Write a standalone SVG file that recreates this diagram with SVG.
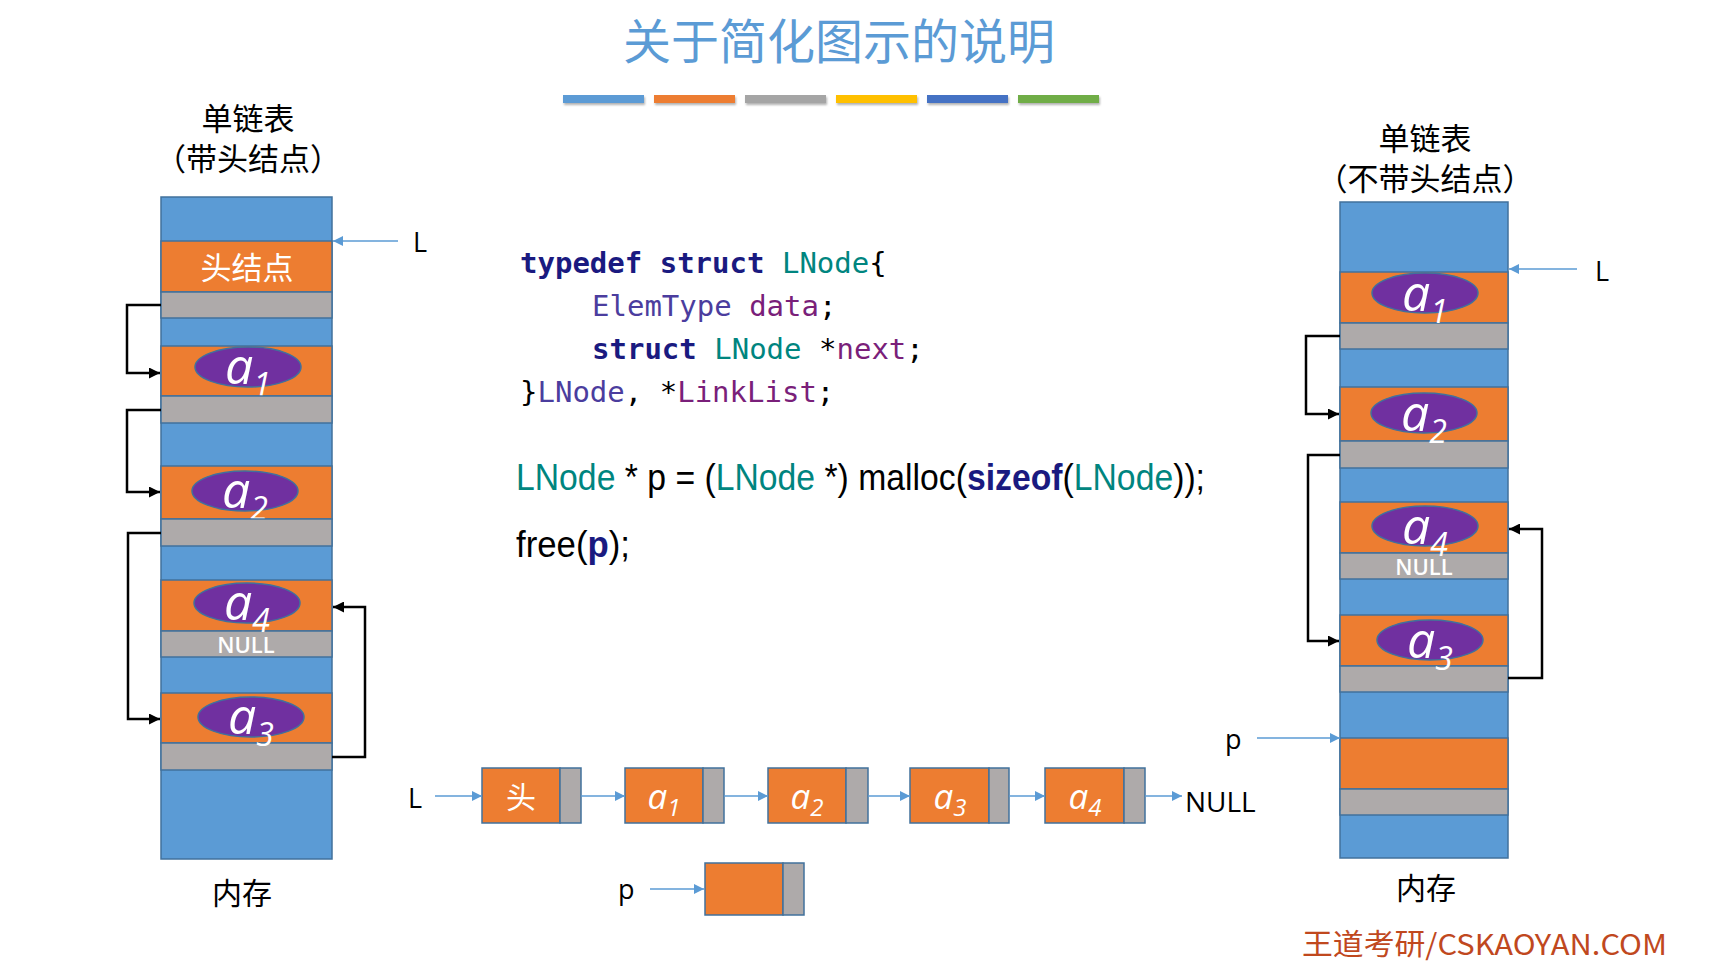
<svg xmlns="http://www.w3.org/2000/svg" width="1728" height="966" viewBox="0 0 1728 966">
<defs>
<style>
.bl{fill:#5B9BD5;stroke:#41719C;stroke-width:1.5}
.or{fill:#ED7D31;stroke:#41719C;stroke-width:1.5}
.gr{fill:#AEAAAA;stroke:#41719C;stroke-width:1.5}
.el{fill:#7030A0;stroke:#41719C;stroke-width:1.5}
.cn{fill:none;stroke:#000;stroke-width:2.5}
.bc{fill:none;stroke:#5B9BD5;stroke-width:1.5}
.cjk{font-family:"Noto Sans CJK SC","Noto Sans",sans-serif}
.lab{font-family:"Open Sans","Liberation Sans",sans-serif;fill:#000}
.nul{font-family:"Open Sans","Liberation Sans",sans-serif;fill:#fff;font-size:22px;font-weight:600}
.ai{font-family:"Open Sans","Noto Sans",sans-serif;font-style:italic;fill:#fff}
.code{font-family:"DejaVu Sans Mono","Liberation Mono",monospace;font-size:29px}
.kw{fill:#1A1A80;font-weight:bold}
.ty{fill:#00857F}
.pu{fill:#7A1F7A}
.vi{fill:#4B3D9E}
</style>
<marker id="ab" viewBox="0 0 10 10" refX="10" refY="5" markerWidth="12" markerHeight="11" markerUnits="userSpaceOnUse" orient="auto"><path d="M0,0 L10,5 L0,10 z" fill="#000"/></marker>
<marker id="au" viewBox="0 0 10 10" refX="10" refY="5" markerWidth="11" markerHeight="10" markerUnits="userSpaceOnUse" orient="auto"><path d="M0,0 L10,5 L0,10 z" fill="#5B9BD5"/></marker>
<filter id="sh" x="-10%" y="-50%" width="120%" height="250%"><feDropShadow dx="1" dy="2" stdDeviation="1.2" flood-color="#000" flood-opacity="0.3"/></filter>
</defs>
<rect width="1728" height="966" fill="#fff"/>

<g id="title">
<text x="839" y="59" text-anchor="middle" class="cjk" font-size="48" fill="#5B9BD5">关于简化图示的说明</text>
<g filter="url(#sh)">
<rect x="563" y="95" width="81" height="8" fill="#5B9BD5"/>
<rect x="654" y="95" width="81" height="8" fill="#ED7D31"/>
<rect x="745" y="95" width="81" height="8" fill="#A5A5A5"/>
<rect x="836" y="95" width="81" height="8" fill="#FFC000"/>
<rect x="927" y="95" width="81" height="8" fill="#4472C4"/>
<rect x="1018" y="95" width="81" height="8" fill="#70AD47"/>
</g>
</g>

<g id="left-heading" class="cjk" font-size="31" fill="#000">
<text x="248" y="130" text-anchor="middle">单链表</text>
<text x="248" y="170" text-anchor="middle">（带头结点）</text>
</g>

<g id="left-memory">
<rect class="bl" x="161" y="197" width="171" height="662"/>
<g id="l-head"><rect class="or" x="161" y="241" width="171" height="51"/>
<text x="247" y="279" text-anchor="middle" class="cjk" font-size="31" fill="#fff">头结点</text>
<rect class="gr" x="161" y="292" width="171" height="26"/></g>
<g id="l-a1"><rect class="or" x="161" y="346" width="171" height="50"/>
<ellipse class="el" cx="248" cy="367" rx="53" ry="20"/>
<text x="248" y="384" text-anchor="middle" class="ai" font-size="50">a<tspan dy="12" font-size="32">1</tspan></text>
<rect class="gr" x="161" y="396" width="171" height="27"/></g>
<g id="l-a2"><rect class="or" x="161" y="466" width="171" height="53"/>
<ellipse class="el" cx="245" cy="491" rx="53" ry="20"/>
<text x="245" y="508" text-anchor="middle" class="ai" font-size="50">a<tspan dy="12" font-size="32">2</tspan></text>
<rect class="gr" x="161" y="519" width="171" height="27"/></g>
<g id="l-a4"><rect class="or" x="161" y="580" width="171" height="51"/>
<ellipse class="el" cx="247" cy="603" rx="53" ry="20"/>
<rect class="gr" x="161" y="631" width="171" height="26"/>
<text x="246" y="653" text-anchor="middle" class="nul">NULL</text>
<text x="247" y="620" text-anchor="middle" class="ai" font-size="50">a<tspan dy="12" font-size="32">4</tspan></text></g>
<g id="l-a3"><rect class="or" x="161" y="693" width="171" height="50"/>
<ellipse class="el" cx="251" cy="717" rx="53" ry="20"/>
<rect class="gr" x="161" y="743" width="171" height="27"/>
<text x="251" y="734" text-anchor="middle" class="ai" font-size="50">a<tspan dy="12" font-size="32">3</tspan></text></g>
<text x="242" y="904" text-anchor="middle" class="cjk" font-size="30" fill="#000">内存</text>
<text x="413" y="252" class="lab" font-size="27">L</text>
</g>

<g id="right-heading" class="cjk" font-size="31" fill="#000">
<text x="1425" y="150" text-anchor="middle">单链表</text>
<text x="1425" y="190" text-anchor="middle">（不带头结点）</text>
</g>

<g id="right-memory">
<rect class="bl" x="1340" y="202" width="168" height="656"/>
<g id="r-a1"><rect class="or" x="1340" y="272" width="168" height="51"/>
<ellipse class="el" cx="1425" cy="293" rx="53" ry="20"/>
<rect class="gr" x="1340" y="323" width="168" height="26"/>
<text x="1425" y="311" text-anchor="middle" class="ai" font-size="50">a<tspan dy="12" font-size="32">1</tspan></text></g>
<g id="r-a2"><rect class="or" x="1340" y="387" width="168" height="54"/>
<ellipse class="el" cx="1424" cy="413" rx="53" ry="20"/>
<rect class="gr" x="1340" y="441" width="168" height="27"/>
<text x="1424" y="431" text-anchor="middle" class="ai" font-size="50">a<tspan dy="12" font-size="32">2</tspan></text></g>
<g id="r-a4"><rect class="or" x="1340" y="502" width="168" height="51"/>
<ellipse class="el" cx="1425" cy="526" rx="53" ry="20"/>
<rect class="gr" x="1340" y="553" width="168" height="26"/>
<text x="1424" y="575" text-anchor="middle" class="nul">NULL</text>
<text x="1425" y="544" text-anchor="middle" class="ai" font-size="50">a<tspan dy="12" font-size="32">4</tspan></text></g>
<g id="r-a3"><rect class="or" x="1340" y="615" width="168" height="51"/>
<ellipse class="el" cx="1430" cy="640" rx="53" ry="20"/>
<rect class="gr" x="1340" y="666" width="168" height="26"/>
<text x="1430" y="658" text-anchor="middle" class="ai" font-size="50">a<tspan dy="12" font-size="32">3</tspan></text></g>
<g id="r-new"><rect class="or" x="1340" y="738" width="168" height="51"/>
<rect class="gr" x="1340" y="789" width="168" height="26"/></g>
<text x="1426" y="899" text-anchor="middle" class="cjk" font-size="30" fill="#000">内存</text>
<text x="1595" y="281" class="lab" font-size="27">L</text>
<text x="1225" y="749" class="lab" font-size="27">p</text>
</g>

<g id="code">
<text class="code" x="520" y="273"><tspan class="kw">typedef</tspan> <tspan class="kw">struct</tspan> <tspan class="ty">LNode</tspan>{</text>
<text class="code" x="592" y="316"><tspan class="vi">ElemType</tspan> <tspan class="pu">data</tspan>;</text>
<text class="code" x="592" y="359"><tspan class="kw">struct</tspan> <tspan class="ty">LNode</tspan> *<tspan class="pu">next</tspan>;</text>
<text class="code" x="520" y="402">}<tspan class="vi">LNode</tspan>, *<tspan class="pu">LinkList</tspan>;</text>
<text x="516" y="490" font-family="Liberation Sans, sans-serif" font-size="36" textLength="689" lengthAdjust="spacingAndGlyphs" fill="#000"><tspan fill="#00857F">LNode</tspan> * p = (<tspan fill="#00857F">LNode</tspan> *) malloc(<tspan fill="#1A1A80" font-weight="bold">sizeof</tspan>(<tspan fill="#00857F">LNode</tspan>));</text>
<text x="516" y="557" font-family="Liberation Sans, sans-serif" font-size="36" textLength="114" lengthAdjust="spacingAndGlyphs" fill="#000">free(<tspan fill="#1A1A80" font-weight="bold">p</tspan>);</text>
</g>

<g id="list">
<text x="408" y="808" class="lab" font-size="27">L</text>
<g id="n-head"><rect class="or" x="482" y="768" width="78" height="55"/><rect class="gr" x="560" y="768" width="21" height="55"/>
<text x="521" y="808" text-anchor="middle" class="cjk" font-size="30" fill="#fff">头</text></g>
<g id="n-a1"><rect class="or" x="625" y="768" width="78" height="55"/><rect class="gr" x="703" y="768" width="21" height="55"/>
<text x="664" y="809" text-anchor="middle" class="ai" font-size="35">a<tspan dy="7" font-size="24">1</tspan></text></g>
<g id="n-a2"><rect class="or" x="768" y="768" width="78" height="55"/><rect class="gr" x="846" y="768" width="22" height="55"/>
<text x="807" y="809" text-anchor="middle" class="ai" font-size="35">a<tspan dy="7" font-size="24">2</tspan></text></g>
<g id="n-a3"><rect class="or" x="910" y="768" width="79" height="55"/><rect class="gr" x="989" y="768" width="20" height="55"/>
<text x="950" y="809" text-anchor="middle" class="ai" font-size="35">a<tspan dy="7" font-size="24">3</tspan></text></g>
<g id="n-a4"><rect class="or" x="1045" y="768" width="79" height="55"/><rect class="gr" x="1124" y="768" width="21" height="55"/>
<text x="1085" y="809" text-anchor="middle" class="ai" font-size="35">a<tspan dy="7" font-size="24">4</tspan></text></g>
<text x="1185" y="812" class="lab" font-size="28">NULL</text>
<text x="618" y="899" class="lab" font-size="27">p</text>
<g id="n-p"><rect class="or" x="705" y="863" width="78" height="52"/><rect class="gr" x="783" y="863" width="21" height="52"/></g>
</g>

<g id="connectors">
<path class="cn" d="M161,305 H127 V373 H160" marker-end="url(#ab)"/>
<path class="cn" d="M161,410 H127 V492 H160" marker-end="url(#ab)"/>
<path class="cn" d="M161,533 H128 V719 H160" marker-end="url(#ab)"/>
<path class="cn" d="M332,757 H365 V607 H333" marker-end="url(#ab)"/>
<path class="cn" d="M1340,336 H1306 V414 H1339" marker-end="url(#ab)"/>
<path class="cn" d="M1340,455 H1308 V641 H1339" marker-end="url(#ab)"/>
<path class="cn" d="M1508,678 H1542 V529 H1509" marker-end="url(#ab)"/>
<path class="bc" d="M398,241 H333" marker-end="url(#au)"/>
<path class="bc" d="M1577,269 H1509" marker-end="url(#au)"/>
<path class="bc" d="M1257,738 H1340" marker-end="url(#au)"/>
<path class="bc" d="M435,796 H482" marker-end="url(#au)"/>
<path class="bc" d="M581,796 H625" marker-end="url(#au)"/>
<path class="bc" d="M724,796 H768" marker-end="url(#au)"/>
<path class="bc" d="M868,796 H910" marker-end="url(#au)"/>
<path class="bc" d="M1009,796 H1045" marker-end="url(#au)"/>
<path class="bc" d="M1145,796 H1182" marker-end="url(#au)"/>
<path class="bc" d="M650,889 H704" marker-end="url(#au)"/>
</g>

<text id="footer" x="1302" y="955" class="cjk" font-size="29" fill="#C0481E" textLength="365" lengthAdjust="spacingAndGlyphs">王道考研/CSKAOYAN.COM</text>
</svg>
